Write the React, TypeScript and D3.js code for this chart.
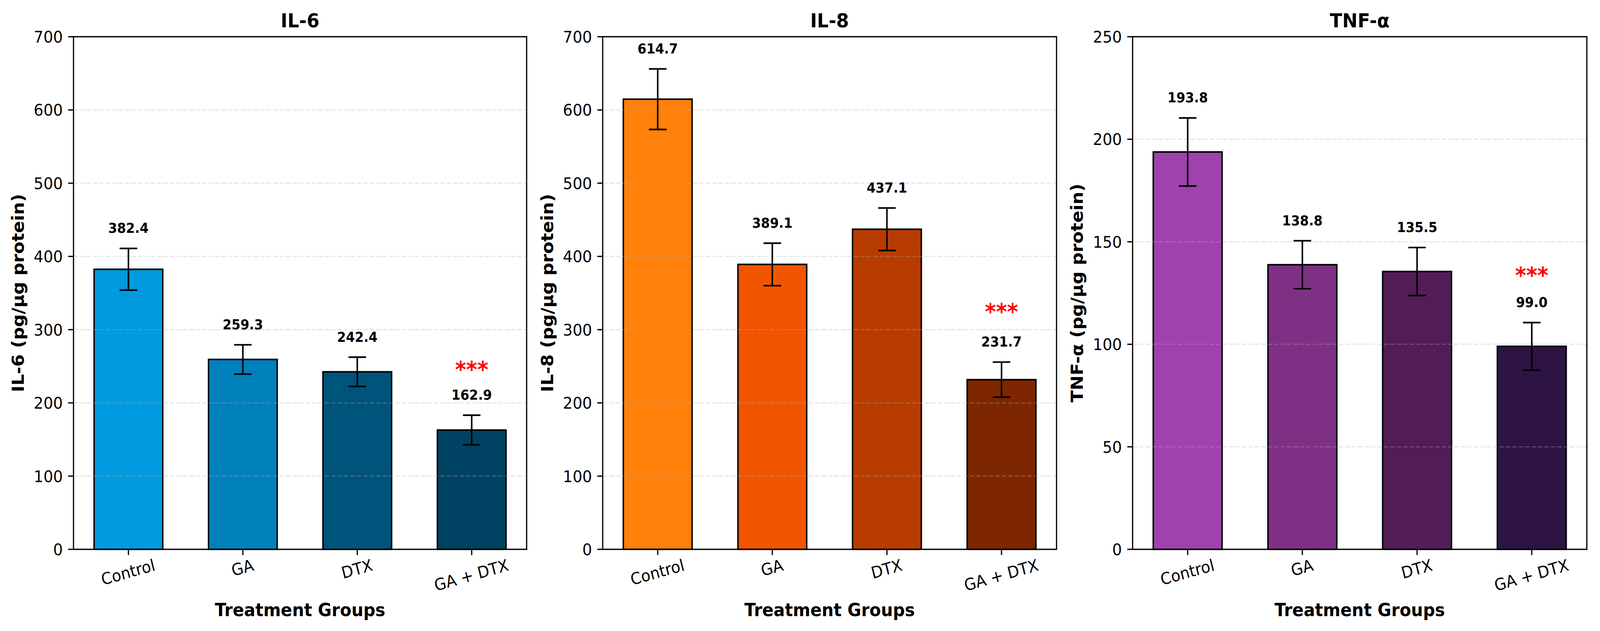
import React from 'react';
import * as d3 from 'd3';

const groups = ['Control', 'GA', 'DTX', 'GA + DTX'];

const il6Means = [382.4, 259.3, 242.4, 162.9];
const il6Sd = [28.5, 20, 20, 20.3];
const il8Means = [614.7, 389.1, 437.1, 231.7];
const il8Sd = [41.4, 29, 29, 24];
const tnfMeans = [193.8, 138.8, 135.5, 99.0];
const tnfSd = [16.6, 11.7, 11.7, 11.6];

const il6Colors = ['#009ade', '#0081bc', '#00537a', '#004262'];
const il8Colors = ['#ff800a', '#f25500', '#b83c00', '#7d2600'];
const tnfColors = ['#a042ae', '#7e3085', '#521c56', '#2e1444'];

const titles = ['IL-6', 'IL-8', 'TNF-α'];
const yLabels = ['IL-6 (pg/µg protein)', 'IL-8 (pg/µg protein)', 'TNF-α (pg/µg protein)'];
const yMax = [700, 700, 250];
const yStep = [100, 100, 50];
// height (in data units) where the "***" sits over GA + DTX
const starLevel = [252, 331, 136];

const FONT = "'DejaVu Sans', 'Liberation Sans', sans-serif";
const W = 4375;
const H = 1615;
const TOP = 94;
const BOTTOM = 1406;
const panelX = [
  [201, 1440],
  [1648, 2889],
  [3097, 4339],
];

let ctx: CanvasRenderingContext2D | null = null;
function textWidth(s: string, size: number, weight = 'normal') {
  if (!ctx) ctx = document.createElement('canvas').getContext('2d');
  if (!ctx) return s.length * size * 0.6;
  ctx.font = `${weight} ${size}px ${FONT}`;
  return ctx.measureText(s).width;
}

interface PanelProps {
  idx: number;
  means: number[];
  sds: number[];
  colors: string[];
}

const Panel: React.FC<PanelProps> = ({ idx, means, sds, colors }) => {
  const [x0, x1] = panelX[idx];
  const x = d3.scaleLinear().domain([-0.48, 3.48]).range([x0, x1]);
  const y = d3.scaleLinear().domain([0, yMax[idx]]).range([BOTTOM, TOP]);
  const ticks = d3.range(0, yMax[idx] + 1e-9, yStep[idx]);
  const barW = x(0.6) - x(0);
  const tickFs = 41.7;
  const tickLen = 14.6;
  const rot = 15;
  const rad = (rot * Math.PI) / 180;
  const offset = yMax[idx] * 0.03;
  const starFs = 58;

  return (
    <g>
      {/* bars */}
      {means.map((m, i) => (
        <rect
          key={groups[i]}
          x={x(i) - barW / 2}
          y={y(m)}
          width={barW}
          height={y(0) - y(m)}
          fill={colors[i]}
          stroke="#000"
          strokeWidth={4}
        />
      ))}

      {/* grid */}
      {ticks.map((t) => (
        <line
          key={'g' + t}
          x1={x0}
          x2={x1}
          y1={y(t)}
          y2={y(t)}
          stroke="#b0b0b0"
          strokeOpacity={0.3}
          strokeWidth={3.3}
          strokeDasharray="12.3 5.3"
        />
      ))}

      {/* error bars */}
      {means.map((m, i) => (
        <g key={'e' + i} stroke="#000" strokeWidth={4.2}>
          <line x1={x(i)} x2={x(i)} y1={y(m - sds[i])} y2={y(m + sds[i])} />
          <line x1={x(i) - 24} x2={x(i) + 24} y1={y(m + sds[i])} y2={y(m + sds[i])} />
          <line x1={x(i) - 24} x2={x(i) + 24} y1={y(m - sds[i])} y2={y(m - sds[i])} />
        </g>
      ))}

      {/* value labels */}
      {means.map((m, i) => (
        <text
          key={'v' + i}
          x={x(i)}
          y={y(m + sds[i] + offset)}
          textAnchor="middle"
          fontFamily={FONT}
          fontWeight="bold"
          fontSize={35}
          fill="#000"
        >
          {m.toFixed(1)}
        </text>
      ))}

      {/* significance */}
      <text
        x={x(3)}
        y={y(starLevel[idx]) + 0.56 * starFs}
        textAnchor="middle"
        fontFamily={FONT}
        fontWeight="bold"
        fontSize={starFs}
        fill="#ff0000"
      >
        ***
      </text>

      {/* frame */}
      <rect x={x0} y={TOP} width={x1 - x0} height={BOTTOM - TOP} fill="none" stroke="#000" strokeWidth={3.3} />

      {/* y axis */}
      {ticks.map((t) => (
        <g key={'y' + t}>
          <line x1={x0 - tickLen} x2={x0} y1={y(t)} y2={y(t)} stroke="#000" strokeWidth={3.3} />
          <text
            x={x0 - tickLen - 14.6}
            y={y(t)}
            dy="0.36em"
            textAnchor="end"
            fontFamily={FONT}
            fontSize={tickFs}
            fill="#000"
          >
            {t}
          </text>
        </g>
      ))}

      {/* x axis */}
      {groups.map((gname, i) => {
        const w = textWidth(gname, tickFs);
        const bh = w * Math.sin(rad) + tickFs * Math.cos(rad);
        const cy = BOTTOM + tickLen + 8 + bh / 2;
        return (
          <g key={'x' + gname}>
            <line x1={x(i)} x2={x(i)} y1={BOTTOM} y2={BOTTOM + tickLen} stroke="#000" strokeWidth={3.3} />
            <g transform={`translate(${x(i)},${cy}) rotate(${-rot})`}>
              <text x={0} y={0.262 * tickFs} textAnchor="middle" fontFamily={FONT} fontSize={tickFs} fill="#000">
                {gname}
              </text>
            </g>
          </g>
        );
      })}

      {/* titles */}
      <text
        x={(x0 + x1) / 2}
        y={70}
        textAnchor="middle"
        fontFamily={FONT}
        fontWeight="bold"
        fontSize={50}
        fill="#000"
      >
        {titles[idx]}
      </text>
      <text
        x={(x0 + x1) / 2}
        y={1577}
        textAnchor="middle"
        fontFamily={FONT}
        fontWeight="bold"
        fontSize={45.8}
        fill="#000"
      >
        Treatment Groups
      </text>
      <text
        transform={`translate(${x0 - 136},${(TOP + BOTTOM) / 2}) rotate(-90)`}
        textAnchor="middle"
        fontFamily={FONT}
        fontWeight="bold"
        fontSize={45.8}
        fill="#000"
      >
        {yLabels[idx]}
      </text>
    </g>
  );
};

export default function App() {
  return (
    <svg
      viewBox={`0 0 ${W} ${H}`}
      preserveAspectRatio="none"
      style={{ position: 'fixed', left: 0, top: 0, width: '100vw', height: '100vh', background: '#fff' }}
    >
      <rect width={W} height={H} fill="#fff" />
      <Panel idx={0} means={il6Means} sds={il6Sd} colors={il6Colors} />
      <Panel idx={1} means={il8Means} sds={il8Sd} colors={il8Colors} />
      <Panel idx={2} means={tnfMeans} sds={tnfSd} colors={tnfColors} />
    </svg>
  );
}
